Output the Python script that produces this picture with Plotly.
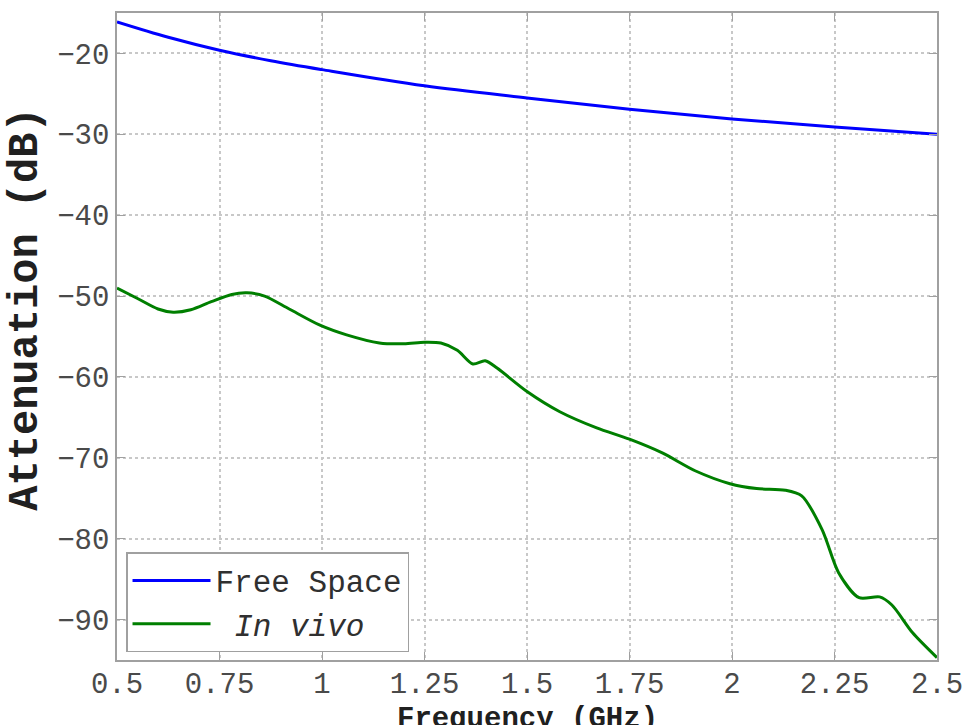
import plotly.graph_objects as go

# values
freq_free = [0.5, 0.625, 0.75, 0.875, 1.0, 1.25, 1.5, 1.75, 2.0, 2.25, 2.5]
att_free = [-16.1, -18.0, -19.6, -20.9, -22.0, -24.0, -25.5, -26.9, -28.1, -29.1, -30.0]

freq_vivo = [0.5, 0.55, 0.6, 0.637, 0.68, 0.73, 0.78, 0.817, 0.86, 0.92, 0.995,
             1.06, 1.14, 1.2, 1.25, 1.29, 1.33, 1.368, 1.398, 1.427, 1.5, 1.58,
             1.67, 1.75, 1.83, 1.91, 1.995, 2.06, 2.13, 2.17, 2.22, 2.26, 2.31,
             2.36, 2.39, 2.44, 2.5]
att_vivo = [-49.0, -50.3, -51.6, -52.0, -51.7, -50.7, -49.8, -49.6, -50.0, -51.6, -53.6,
            -54.8, -55.8, -55.9, -55.7, -55.8, -56.7, -58.4, -58.0, -58.9, -61.8, -64.3,
            -66.3, -67.7, -69.4, -71.6, -73.2, -73.8, -74.0, -74.7, -78.9, -84.2, -87.3,
            -87.2, -88.2, -91.6, -94.7]

x_ticks = [0.5, 0.75, 1, 1.25, 1.5, 1.75, 2, 2.25, 2.5]
x_ticktext = ["0.5", "0.75", "1", "1.25", "1.5", "1.75", "2", "2.25", "2.5"]
y_ticks = [-90, -80, -70, -60, -50, -40, -30, -20]

mono = "Liberation Mono, Courier New, monospace"
axis_grey = "#a0a0a0"

fig = go.Figure()
fig.add_trace(go.Scatter(x=freq_free, y=att_free, mode="lines", name="Free Space",
                         line=dict(color="#0000ff", width=3, shape="spline")))
fig.add_trace(go.Scatter(x=freq_vivo, y=att_vivo, mode="lines", name="&nbsp;<i>In vivo</i>",
                         line=dict(color="#007f00", width=3, shape="spline", smoothing=0.8)))

axis_common = dict(
    showline=True, linecolor=axis_grey, linewidth=1.5, mirror="ticks",
    ticks="inside", ticklen=8, tickcolor=axis_grey,
    showgrid=True, gridcolor="#c8c8c8", griddash="dot", gridwidth=1.5,
    zeroline=False, automargin=False,
    tickfont=dict(family=mono, size=29, color="#4a4a4a"),
)

fig.update_xaxes(range=[0.5, 2.5], tickvals=x_ticks, ticktext=x_ticktext,
                 ticklabelstandoff=-4, **axis_common)
fig.update_yaxes(range=[-95, -15], tickvals=y_ticks, **axis_common)

fig.update_layout(
    width=968, height=725,
    margin=dict(l=117, r=31, t=13, b=65),
    plot_bgcolor="white", paper_bgcolor="white",
    showlegend=True,
    legend=dict(x=0.011, y=0.012, xanchor="left", yanchor="bottom",
                bgcolor="white", bordercolor=axis_grey, borderwidth=1.5,
                font=dict(family=mono, size=31, color="#303030"),
                itemwidth=78, tracegroupgap=0),
    annotations=[
        dict(text="<b>Frequency (GHz)</b>", xref="paper", yref="paper", x=0.5, y=-0.064,
             xanchor="center", yanchor="top", showarrow=False,
             font=dict(family=mono, size=29, color="#202020")),
        dict(text="<b>Attenuation (dB)</b>", xref="paper", yref="paper", x=-0.111, y=0.543,
             xanchor="center", yanchor="middle", textangle=-90, showarrow=False,
             font=dict(family=mono, size=42, color="#202020")),
    ],
)

# drop the default body margin so the figure fills the window exactly
fig.write_html("out.html", config={"displayModeBar": False},
               post_script="document.body.style.margin='0';document.body.style.overflow='hidden';")
